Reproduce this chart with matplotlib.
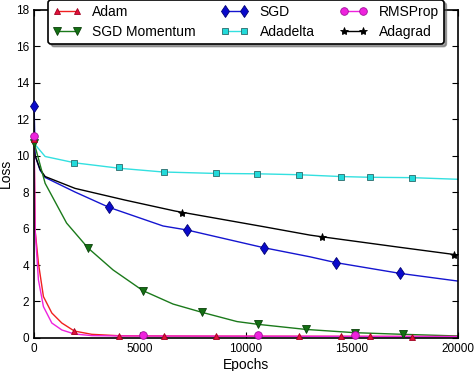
import matplotlib
matplotlib.use("Agg")
import matplotlib.pyplot as plt
from matplotlib.lines import Line2D

plt.rcParams['font.family'] = ['Liberation Sans', 'DejaVu Sans']

# curves (epoch, loss)
adam_x = [0, 47, 203, 439, 835, 1307, 1900, 2722, 4057, 8000, 20000]
adam_y = [10.6, 5.9, 4.1, 2.27, 1.37, 0.82, 0.38, 0.2, 0.12, 0.1, 0.08]
adam_mx = [0, 1887, 4009, 6132, 8585, 12484, 14481, 15849, 17830]
adam_my = [10.9, 0.38, 0.1, 0.1, 0.1, 0.1, 0.1, 0.1, 0.08]

rms_x = [0, 47, 203, 439, 835, 1307, 1900, 2722, 4057, 20000]
rms_y = [11.1, 5.9, 3.18, 1.72, 0.82, 0.44, 0.22, 0.13, 0.11, 0.08]
rms_mx = [0, 5127, 10552, 15142]
rms_my = [11.1, 0.15, 0.15, 0.15]

mom_x = [0, 519, 1532, 2547, 3726, 5127, 6557, 7910, 9575, 10552, 12816, 15142, 17420, 20000]
mom_y = [10.7, 8.48, 6.3, 4.93, 3.73, 2.6, 1.86, 1.41, 0.9, 0.75, 0.47, 0.29, 0.2, 0.11]
mom_mx = [0, 2547, 5127, 7910, 10552, 12816, 15142, 17420]
mom_my = [10.7, 4.93, 2.6, 1.41, 0.75, 0.47, 0.29, 0.2]

sgd_x = [0, 47, 280, 519, 1934, 3538, 6085, 7217, 10835, 13019, 14245, 17278, 20000]
sgd_y = [12.7, 10.0, 9.2, 8.8, 8.0, 7.16, 6.14, 5.92, 4.95, 4.45, 4.13, 3.54, 3.12]
sgd_mx = [0, 3538, 7217, 10835, 14245, 17278]
sgd_my = [12.7, 7.16, 5.92, 4.95, 4.13, 3.54]

adadelta_x = [0, 47, 519, 1934, 4057, 6085, 8585, 10566, 12500, 14481, 15849, 17830, 20000]
adadelta_y = [10.9, 10.6, 9.95, 9.6, 9.3, 9.1, 9.02, 9.0, 8.95, 8.85, 8.81, 8.79, 8.7]
adadelta_mx = [1887, 4009, 6132, 8585, 10519, 12500, 14481, 15849, 17830]
adadelta_my = [9.6, 9.35, 9.12, 9.02, 8.99, 8.93, 8.85, 8.81, 8.79]

adagrad_x = [0, 47, 280, 519, 1934, 4292, 6651, 10835, 13019, 13570, 17264, 20000]
adagrad_y = [10.3, 10.0, 9.25, 8.85, 8.2, 7.56, 6.96, 6.1, 5.64, 5.55, 4.97, 4.55]
adagrad_mx = [6967, 13570, 19811]
adagrad_my = [6.87, 5.55, 4.57]

fig = plt.figure(figsize=(4.74, 3.71), dpi=100)
ax = fig.add_axes([0.072, 0.089, 0.894, 0.885])

series = [
    ("Adam", adam_x, adam_y, adam_mx, adam_my, '#f02020', '#e0103a', '#a00020', '^', 5),
    ("SGD Momentum", mom_x, mom_y, mom_mx, mom_my, '#1b7a1b', '#137013', '#0a400a', 'v', 5.5),
    ("SGD", sgd_x, sgd_y, sgd_mx, sgd_my, '#1515d0', '#0a0acc', '#000070', 'd', 6.5),
    ("Adadelta", adadelta_x, adadelta_y, adadelta_mx, adadelta_my, '#33e0e0', '#22dada', '#2a6a6a', 's', 5),
    ("RMSProp", rms_x, rms_y, rms_mx, rms_my, '#ee22dd', '#ee22dd', '#a0109a', 'o', 5.5),
    ("Adagrad", adagrad_x, adagrad_y, adagrad_mx, adagrad_my, '#000000', '#000000', '#000000', '*', 6),
]

draw_order = [3, 2, 5, 1, 0, 4]
for i in draw_order:
    name, x, y, mx, my, lc, fc, ec, mk, ms = series[i]
    ax.plot(x, y, color=lc, lw=1.0, zorder=2)
    ax.plot(mx, my, ls='none', marker=mk, ms=ms, mfc=fc, mec=ec, mew=0.6, zorder=3,
            clip_on=False)

handles = []
for name, x, y, mx, my, lc, fc, ec, mk, ms in series:
    handles.append(Line2D([], [], color=lc, lw=1.0, marker=mk, ms=ms, mfc=fc, mec=ec,
                          mew=0.6, label=name))

leg = ax.legend(handles=handles, ncol=3, loc='upper center', bbox_to_anchor=(0.5, 1.03),
                numpoints=2, fontsize=10, frameon=True, fancybox=True, shadow=True,
                handlelength=2.0, columnspacing=1.8, handletextpad=0.8, labelspacing=0.45,
                borderpad=0.35, borderaxespad=0)
leg.get_frame().set_edgecolor('black')
leg.get_frame().set_linewidth(1.2)
leg.set_zorder(5)

ax.set_xlim(0, 20000)
ax.set_ylim(0, 18)
ax.set_xticks([0, 5000, 10000, 15000, 20000])
ax.set_yticks(range(0, 19, 2))
ax.tick_params(direction='in', length=4, width=0.8, labelsize=8.5, top=True, right=True)
for s in ax.spines.values():
    s.set_linewidth(1.2)
ax.set_xlabel('Epochs', fontsize=10, labelpad=2)
ax.set_ylabel('Loss', fontsize=10, labelpad=2)

fig.savefig('out.png', dpi=100)
